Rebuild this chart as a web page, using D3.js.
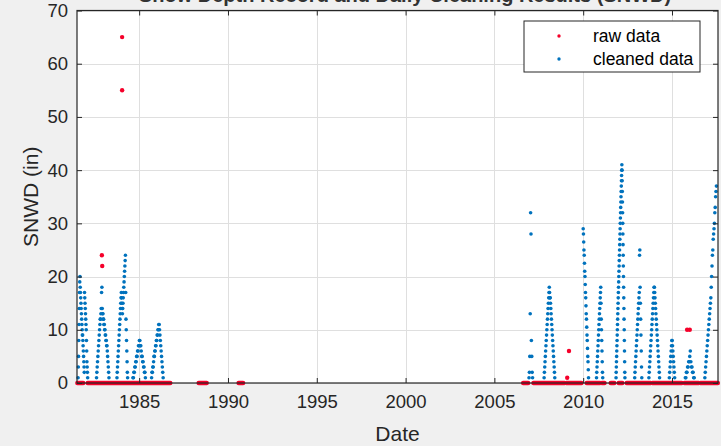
<!DOCTYPE html>
<html>
<head>
<meta charset="utf-8">
<script src="https://cdn.jsdelivr.net/npm/d3@7"></script>
<style>
  body { margin: 0; background: #f0f0f0; }
  svg { display: block; font-family: "Liberation Sans", Arial, Helvetica, sans-serif; }
</style>
</head>
<body>
<div id="chart"></div>
<script>
// x values are decimal years
const xTicks = [1985, 1990, 1995, 2000, 2005, 2010, 2015];
const yTicks = [0, 10, 20, 30, 40, 50, 60, 70];

// raw data: runs of zero depth, and the spikes that the cleaning removed
const rawZeroRuns = [[1981.52, 1981.85], [1982.1, 1986.75], [1988.35, 1988.8], [1990.6, 1990.85],
  [2006.62, 2006.9], [2007.2, 2008.95], [2009.05, 2009.9], [2010.2, 2010.95], [2011.05, 2011.2],
  [2011.55, 2011.75], [2012.0, 2012.2], [2012.45, 2013.8], [2013.9, 2015.55], [2015.7, 2016.5], [2016.6, 2017.58]];
const rawSpikes = [[1982.9, 24], [1982.92, 22], [1984.04, 65], [1984.04, 55],
  [2009.1, 1], [2009.2, 6], [2015.85, 10], [2016.0, 10]];

// cleaned data: one span per winter, daily depths listed in order
const seasonSpans = [[1981.56, 1982.1], [1982.6, 1983.3], [1983.75, 1984.35], [1984.65, 1985.35],
  [1985.7, 1986.35], [2006.95, 2007.15], [2007.8, 2008.4], [2010.0, 2010.3], [2010.75, 2011.1],
  [2011.85, 2012.35], [2012.9, 2013.3], [2013.7, 2014.3], [2014.85, 2015.15], [2015.75, 2016.25],
  [2016.85, 2017.5]];
const seasonValues = [
  [1,3,5,8,11,14,17,19,20,18,17,16,15,14,13,12,11,10,9,9,8,7,6,5,4,3,2,17,16,15,14,13,12,11,10,8,6,4,3,2,1],
  [1,2,3,4,5,6,7,8,9,10,11,12,12,13,14,17,18,14,13,13,12,12,11,11,10,10,9,9,8,8,7,7,6,5,4,3,2,1],
  [1,2,3,4,5,6,7,8,9,10,11,12,13,14,15,16,17,16,15,14,13,14,15,16,17,18,19,20,21,22,23,24,17,12,10,8,6,4,2,1],
  [1,1,2,2,3,3,4,4,5,5,6,6,7,7,8,8,7,7,6,5,5,4,4,3,3,2,2,1],
  [1,2,2,3,3,4,5,5,6,6,7,7,8,8,9,9,10,10,11,11,10,9,8,7,6,5,4,3,2,1],
  [1,2,5,13,32,28,8,5,2,1],
  [1,2,3,4,5,6,7,8,9,10,11,12,13,14,15,16,17,18,17,16,16,15,14,13,12,11,10,9,8,7,6,5,4,3,2,1],
  [29,28,26.5,25,24,22.5,21,20,18.5,17,16,14.5,13,12,10.5,9,8,6.5,5,4,2.5,1],
  [1,2,3,4,5,6,7,8,9,10,11,12,13,14,15,16,17,18,15,12,10,8,6,4,2,1],
  [1,2,3,4,5,6,7,8,9,10,11,12,13,14,15,16,17,18,19,20,21,22,23,24,25,26,27,28,29,30,31,32,33,34,35,36,37,38,39,40,41,40,38,36,34,32,30,28,26,24,22,20,18,16,14,12,10,8,6,4,2,1],
  [1,2,3,4,5,6,7,8,9,10,11,12,13,14,15,16,17,24,25,18,15,12,9,6,3,1],
  [1,2,3,4,5,6,7,8,9,10,11,12,13,14,15,16,17,18,18,17,16,15,14,13,12,11,10,9,8,7,6,5,4,3,2,1],
  [1,2,3,4,5,6,7,8,8,7,6,5,4,3,2,1],
  [1,1,2,2,3,3,4,4,5,6,4,3,3,2,2,1,1],
  [1,2,3,4,5,6,7,8,9,10,11,12,13,14,15,16,18,20,22,24,25,27,28,29,30,32,33,35,36,37]
];

const W = 721, H = 446;
const plotLeft = 77, plotRight = 718, plotTop = 10.5, plotBottom = 383;
const rawColor = '#f5002a', cleanColor = '#0072bd', axisColor = '#262626';

const svg = d3.select('#chart').append('svg').attr('width', W).attr('height', H);

const x = d3.scaleLinear().domain([1981.5, 2017.59]).range([plotLeft, plotRight]);
const y = d3.scaleLinear().domain([0, 70]).range([plotBottom, plotTop]);

// plot area
svg.append('rect')
   .attr('x', plotLeft).attr('y', plotTop)
   .attr('width', plotRight - plotLeft).attr('height', plotBottom - plotTop)
   .attr('fill', '#fff');

// grid
const grid = svg.append('g').attr('stroke', '#dfdfdf').attr('stroke-width', 1);
xTicks.forEach(t => grid.append('line')
  .attr('x1', Math.round(x(t)) + 0.5).attr('x2', Math.round(x(t)) + 0.5)
  .attr('y1', plotTop).attr('y2', plotBottom));
yTicks.forEach(t => grid.append('line')
  .attr('x1', plotLeft).attr('x2', plotRight)
  .attr('y1', Math.round(y(t)) + 0.5).attr('y2', Math.round(y(t)) + 0.5));

// raw data
const raw = svg.append('g');
raw.selectAll('line.zero').data(rawZeroRuns).join('line')
   .attr('class', 'zero')
   .attr('x1', d => x(d[0])).attr('x2', d => x(d[1]))
   .attr('y1', y(0)).attr('y2', y(0))
   .attr('stroke', rawColor).attr('stroke-width', 4.5).attr('stroke-linecap', 'round');
raw.selectAll('circle').data(rawSpikes).join('circle')
   .attr('cx', d => x(d[0])).attr('cy', d => y(d[1]))
   .attr('r', 2.2).attr('fill', rawColor);

// cleaned data
const cleanPoints = [];
seasonSpans.forEach((span, i) => {
  const vals = seasonValues[i];
  const step = (span[1] - span[0]) / (vals.length - 1);
  vals.forEach((v, k) => cleanPoints.push([span[0] + k * step, v]));
});
svg.append('g').selectAll('circle').data(cleanPoints).join('circle')
   .attr('cx', d => x(d[0])).attr('cy', d => y(d[1]))
   .attr('r', 1.8).attr('fill', cleanColor);

// axes
const xAxis = svg.append('g').attr('transform', `translate(0,${plotBottom})`)
  .call(d3.axisBottom(x).tickValues(xTicks).tickFormat(d3.format('d')).tickSizeInner(-5).tickSizeOuter(0).tickPadding(12));
const yAxis = svg.append('g').attr('transform', `translate(${plotLeft},0)`)
  .call(d3.axisLeft(y).tickValues(yTicks).tickSizeInner(-5).tickSizeOuter(0).tickPadding(9));
[xAxis, yAxis].forEach(a => {
  a.select('.domain').remove();
  a.selectAll('line').attr('stroke', axisColor);
  a.selectAll('text').attr('fill', axisColor).attr('font-size', 18.5).attr('font-family', null);
});
// ticks on top and right (box on)
svg.append('g').attr('transform', `translate(0,${plotTop})`)
   .call(d3.axisTop(x).tickValues(xTicks).tickSizeInner(-5).tickSizeOuter(0).tickFormat(''))
   .call(g => { g.select('.domain').remove(); g.selectAll('line').attr('stroke', axisColor); });
svg.append('g').attr('transform', `translate(${plotRight},0)`)
   .call(d3.axisRight(y).tickValues(yTicks).tickSizeInner(-5).tickSizeOuter(0).tickFormat(''))
   .call(g => { g.select('.domain').remove(); g.selectAll('line').attr('stroke', axisColor); });

svg.append('rect')
   .attr('x', plotLeft).attr('y', plotTop)
   .attr('width', plotRight - plotLeft).attr('height', plotBottom - plotTop)
   .attr('fill', 'none').attr('stroke', axisColor).attr('stroke-width', 1.2);

// labels
svg.append('text')
   .attr('x', (plotLeft + plotRight) / 2).attr('y', 441)
   .attr('text-anchor', 'middle').attr('font-size', 21).attr('fill', axisColor)
   .text('Date');
svg.append('text')
   .attr('transform', `translate(38,${(plotTop + plotBottom) / 2}) rotate(-90)`)
   .attr('text-anchor', 'middle').attr('font-size', 21).attr('fill', axisColor)
   .text('SNWD (in)');
// title sits above the top edge, only its lower part shows
svg.append('text')
   .attr('x', 405).attr('y', 2)
   .attr('text-anchor', 'middle').attr('font-size', 20).attr('font-weight', 'bold').attr('fill', '#333')
   .text('Snow Depth Record and Daily Cleaning Results (SNWD)');

// legend
const legendX = 524, legendY = 21;
const legend = svg.append('g');
legend.append('rect')
      .attr('x', legendX).attr('y', legendY).attr('width', 176).attr('height', 51)
      .attr('fill', '#fff').attr('stroke', axisColor).attr('stroke-width', 1);
const legendItems = [['raw data', rawColor], ['cleaned data', cleanColor]];
legendItems.forEach((item, i) => {
  const cy = legendY + 15 + i * 23;
  legend.append('circle').attr('cx', legendX + 35).attr('cy', cy).attr('r', 1.7).attr('fill', item[1]);
  legend.append('text')
        .attr('x', legendX + 69).attr('y', cy).attr('dy', '0.35em')
        .attr('font-size', 17.5).attr('fill', '#000')
        .text(item[0]);
});
</script>
</body>
</html>
